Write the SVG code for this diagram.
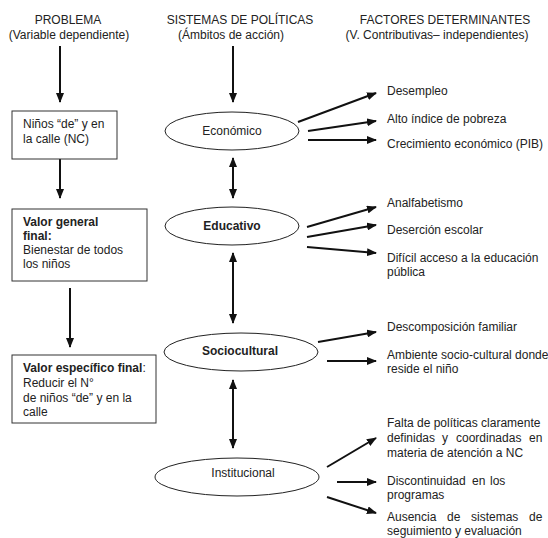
<svg xmlns="http://www.w3.org/2000/svg" width="548" height="538" viewBox="0 0 548 538">
<style>
text{font-family:"Liberation Sans",Arial,sans-serif;font-size:12px;fill:#222}
.b{font-weight:bold}
.c{text-anchor:middle}
.box{fill:#fff;stroke:#333;stroke-width:1}
.ell{fill:#fff;stroke:#222;stroke-width:1}
.ar{stroke:#111;stroke-width:2;fill:none;marker-end:url(#ah)}
.dar{stroke:#111;stroke-width:2;fill:none;marker-end:url(#ah);marker-start:url(#ah)}
</style>
<defs>
<marker id="ah" viewBox="0 0 10 8" refX="9" refY="4" markerWidth="10" markerHeight="8" markerUnits="userSpaceOnUse" orient="auto-start-reverse">
<path d="M0,0 L10,4 L0,8 z" fill="#111"/>
</marker>
</defs>
<rect width="548" height="538" fill="#fff"/>
<g id="headers">
<text class="c" x="68" y="24">PROBLEMA</text>
<text class="c" x="69" y="39">(Variable dependiente)</text>
<text class="c" x="240" y="24">SISTEMAS DE POLÍTICAS</text>
<text class="c" x="231" y="39">(Ámbitos de acción)</text>
<text class="c" x="445" y="24">FACTORES DETERMINANTES</text>
<text class="c" x="437" y="39">(V. Contributivas– independientes)</text>
</g>
<g id="connectors">
<line class="ar" x1="60" y1="46" x2="60" y2="102"/>
<line class="ar" x1="60" y1="159" x2="60" y2="198"/>
<line class="ar" x1="70" y1="288" x2="70" y2="347"/>
<line class="ar" x1="233" y1="46" x2="233" y2="102"/>
<line class="dar" x1="233" y1="158" x2="233" y2="198"/>
<line class="dar" x1="233" y1="253" x2="233" y2="323"/>
<line class="dar" x1="233" y1="380" x2="233" y2="448"/>
<line class="ar" x1="298" y1="122" x2="376" y2="93"/>
<line class="ar" x1="308" y1="131" x2="376" y2="121"/>
<line class="ar" x1="308" y1="140" x2="376" y2="140"/>
<line class="ar" x1="307" y1="227" x2="376" y2="207"/>
<line class="ar" x1="307" y1="237" x2="376" y2="225"/>
<line class="ar" x1="307" y1="247" x2="376" y2="253"/>
<line class="ar" x1="318" y1="342" x2="376" y2="332"/>
<line class="ar" x1="327" y1="361" x2="376" y2="361"/>
<line class="ar" x1="327" y1="467" x2="376" y2="438"/>
<line class="ar" x1="337" y1="482" x2="376" y2="482"/>
<line class="ar" x1="327" y1="497" x2="376" y2="513"/>
</g>
<g id="problema">
<rect class="box" x="12" y="111" width="105" height="48"/>
<text x="23" y="128">Niños “de” y en</text>
<text x="23" y="143">la calle (NC)</text>
</g>
<g id="valor-general">
<rect class="box" x="12" y="209" width="135" height="72"/>
<text class="b" x="23" y="226">Valor general</text>
<text class="b" x="23" y="240">final:</text>
<text x="23" y="254">Bienestar de todos</text>
<text x="23" y="268">los niños</text>
</g>
<g id="valor-especifico">
<rect class="box" x="12" y="355" width="144" height="68"/>
<text x="23" y="372"><tspan class="b">Valor específico final</tspan>:</text>
<text x="23" y="387">Reducir el N°</text>
<text x="23" y="402">de niños “de” y en la</text>
<text x="23" y="416">calle</text>
</g>
<g id="economico">
<ellipse class="ell" cx="232" cy="131" rx="67" ry="19"/>
<text class="c" x="232" y="135">Económico</text>
</g>
<g id="educativo">
<ellipse class="ell" cx="232" cy="226" rx="67" ry="19"/>
<text class="c b" x="232" y="230">Educativo</text>
</g>
<g id="sociocultural">
<ellipse class="ell" cx="241" cy="352" rx="77" ry="19"/>
<text class="c b" x="240" y="355">Sociocultural</text>
</g>
<g id="institucional">
<ellipse class="ell" cx="237" cy="477" rx="82" ry="19"/>
<text class="c" x="243" y="477">Institucional</text>
</g>
<g id="factores-economicos">
<text x="387" y="95">Desempleo</text>
<text x="387" y="123">Alto índice de pobreza</text>
<text x="387" y="148">Crecimiento económico (PIB)</text>
</g>
<g id="factores-educativos">
<text x="387" y="207">Analfabetismo</text>
<text x="387" y="234">Deserción escolar</text>
<text x="387" y="262">Difícil acceso a la educación</text>
<text x="387" y="276">pública</text>
</g>
<g id="factores-socioculturales">
<text x="387" y="331">Descomposición familiar</text>
<text x="387" y="359">Ambiente socio-cultural donde</text>
<text x="387" y="373">reside el niño</text>
</g>
<g id="factores-institucionales">
<text x="387" y="427">Falta de políticas claramente</text>
<text y="442"><tspan x="387">definidas</tspan><tspan x="442">y</tspan><tspan x="456">coordinadas</tspan><tspan x="529">en</tspan></text>
<text x="387" y="457">materia de atención a NC</text>
<text y="485"><tspan x="387">Discontinuidad</tspan><tspan x="472">en</tspan><tspan x="490">los</tspan></text>
<text x="387" y="499">programas</text>
<text y="521"><tspan x="387">Ausencia</tspan><tspan x="447">de</tspan><tspan x="471">sistemas</tspan><tspan x="529">de</tspan></text>
<text x="387" y="535">seguimiento y evaluación</text>
</g>
</svg>
